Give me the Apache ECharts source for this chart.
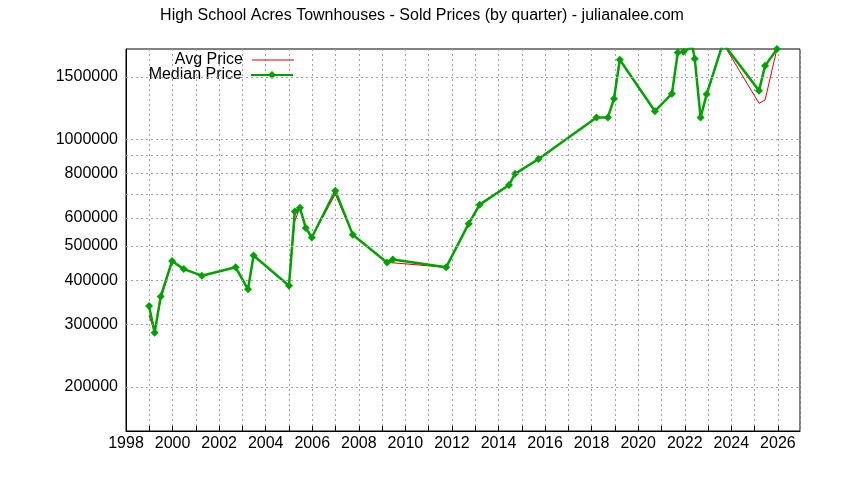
<!DOCTYPE html>
<html>
<head>
<meta charset="utf-8">
<script src="https://cdn.jsdelivr.net/npm/echarts@6/dist/echarts.min.js"></script>
<style>
html,body{margin:0;padding:0;background:#fff;}
#chart{width:844px;height:480px;}
</style>
</head>
<body>
<div id="chart"></div>
<script>
// Quarter positions (decimal years)
const years = [1998.99,1999.23,1999.49,1999.98,2000.48,2001.26,2002.71,2003.24,2003.48,2005.00,
  2005.25,2005.47,2005.72,2005.98,2006.99,2007.74,2009.21,2009.46,2011.75,2012.72,
  2013.19,2014.45,2014.71,2015.72,2018.21,2018.70,2018.96,2019.21,2020.72,2021.45,
  2021.70,2021.95,2022.33,2022.43,2022.68,2022.94,2023.64,2025.19,2025.45,2025.96];
const medianPrice = [338000,284000,360000,453000,430000,412000,435000,377000,470000,386000,
  625000,641000,562000,528000,716000,538000,449000,458000,435000,578000,
  654000,743000,799000,880000,1153000,1153000,1303000,1678000,1201000,1346000,
  1759000,1767000,1830000,1689000,1153000,1340000,1870000,1373000,1613000,1800000];
const avgPrice = [318000,286000,352000,453000,430000,412000,435000,377000,470000,386000,
  588000,641000,562000,528000,700000,538000,449000,448000,435000,578000,
  654000,743000,799000,880000,1153000,1153000,1303000,1678000,1201000,1346000,
  1759000,1767000,1830000,1689000,1153000,1340000,1870000,1264000,1292000,1800000];
const yTicks = [200000,300000,400000,500000,600000,700000,800000,900000,1000000,1500000];
const yTickLabels = ['200000','300000','400000','500000','600000','','800000','','1000000','1500000'];

const font = "'Liberation Sans', Arial, sans-serif";
const chart = echarts.init(document.getElementById('chart'), null, {renderer:'canvas'});
const gridLine = {color:'#a0a0a0', type:[2,3], width:1};

chart.setOption({
  animation:false,
  backgroundColor:'#fff',
  title:{text:'High School Acres Townhouses - Sold Prices (by quarter) - julianalee.com',
    left:'center', top:3, textStyle:{fontFamily:font, fontSize:16, fontWeight:'normal', color:'#000'}},
  grid:{left:126, right:44, top:49, bottom:49, show:true, borderColor:'#000', borderWidth:1, backgroundColor:'transparent'},
  legend:[
    {data:[{name:'Avg Price', icon:'rect'}], right:550, top:52, orient:'vertical', align:'right', itemWidth:42, itemHeight:1,
      itemGap:0, padding:0, textStyle:{fontFamily:font, fontSize:16, color:'#000', padding:[0,4,0,0]}, selectedMode:false},
    {data:['Median Price'], right:550, top:67, orient:'vertical', align:'right', itemWidth:42, itemHeight:10,
      itemGap:0, padding:0, textStyle:{fontFamily:font, fontSize:16, color:'#000', padding:[0,4,0,0]}, selectedMode:false}
  ],
  xAxis:{type:'value', min:1998, max:2026.95, interval:1,
    axisLine:{show:true, lineStyle:{color:'#000'}},
    axisTick:{show:true, inside:true, length:5, lineStyle:{color:'#000'}},
    axisLabel:{fontFamily:font, fontSize:16, color:'#000', margin:5,
      formatter:v => (Math.round(v) % 2 === 0 ? String(Math.round(v)) : ''), showMaxLabel:false},
    splitLine:{show:true, lineStyle:gridLine}},
  yAxis:{type:'log', logBase:10, min:150000, max:1800000,
    axisLine:{show:true, lineStyle:{color:'#000'}},
    axisTick:{show:false}, axisLabel:{show:false}, splitLine:{show:false}},
  series:[
    {name:'Avg Price', type:'line', data:years.map((y,i)=>[y,avgPrice[i]]),
      symbol:'none', lineStyle:{color:'#e00000', width:1}, itemStyle:{color:'#e00000'}, z:3,
      markLine:{silent:true, symbol:'none', animation:false,
        lineStyle:gridLine,
        label:{show:true, position:'start', distance:8, fontFamily:font, fontSize:16, color:'#000',
          formatter:p => yTickLabels[yTicks.indexOf(p.value)] || ''},
        data:yTicks.map(v=>({yAxis:v}))}},
    {name:'Median Price', type:'line', data:years.map((y,i)=>[y,medianPrice[i]]),
      symbol:'diamond', symbolSize:8, showSymbol:true,
      lineStyle:{color:'#00a000', width:2.5}, itemStyle:{color:'#00a000'}, z:4}
  ]
});
</script>
</body>
</html>
